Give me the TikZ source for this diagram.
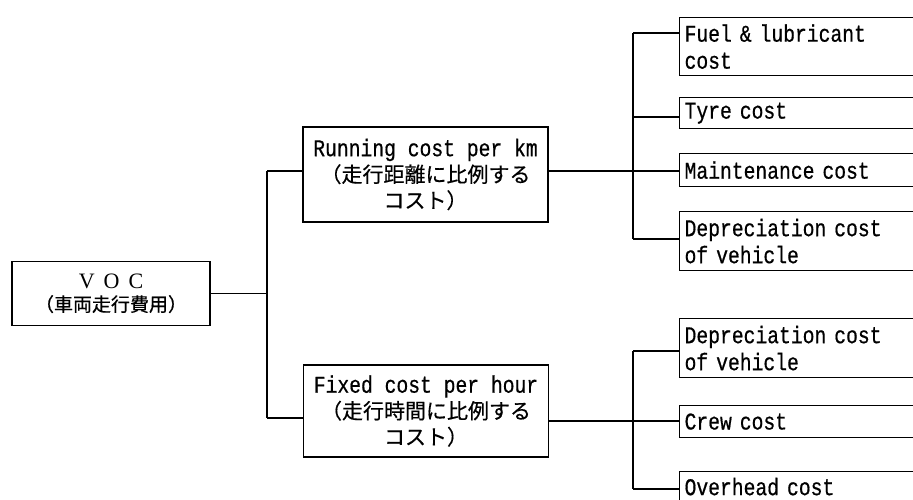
\documentclass[tikz,border=0pt]{standalone}
\usepackage{fontspec}
\newfontfamily\monof[FakeStretch=0.82,FakeBold=0.6]{Liberation Mono}
\newfontfamily\jp[FakeBold=0.5]{Noto Sans CJK JP}
\newfontfamily\serf{Liberation Serif}
\begin{document}
\begin{tikzpicture}[x=1pt,y=-1pt,
  box/.style={draw, line width=1.2pt, inner sep=0pt},
  link/.style={line width=1.2pt},
  leaf/.style={box, anchor=north west, minimum width=280pt, text width=270pt,
     inner xsep=5pt, align=left, font=\monof\fontsize{24}{27}\selectfont},
  mid/.style={box, minimum width=245pt, align=center,
     font=\fontsize{24}{26}\selectfont}
]
\useasboundingbox (0,0) rectangle (913,500);
\clip (0,0) rectangle (913,500);
% root
\node[box, minimum width=198pt, minimum height=64pt, align=center,
      font=\fontsize{22}{22}\selectfont] (voc) at (111,293.5)
  {{\serf V\hspace{9pt}O\hspace{9pt}C}\\[1pt]{\jp\fontsize{19}{20}\selectfont （車両走行費用）}};
% middle boxes
\node[mid, minimum height=95pt] (run) at (425.5,174.5)
  {{\monof Running cost per km}\\{\jp\fontsize{21}{26}\selectfont （走行距離に比例する}\\{\jp\fontsize{21}{26}\selectfont コスト）}};
\node[mid, minimum height=92pt] (fix) at (426,411)
  {{\monof Fixed cost per hour}\\{\jp\fontsize{21}{26}\selectfont （走行時間に比例する}\\{\jp\fontsize{21}{26}\selectfont コスト）}};
% leaves
\node[leaf, minimum height=58pt] (fuel) at (679,17) {Fuel \& lubricant\\cost};
\node[leaf, minimum height=31pt] (tyre) at (679,97) {Tyre cost};
\node[leaf, minimum height=33pt] (mnt) at (679,153) {Maintenance cost};
\node[leaf, minimum height=59pt] (dep) at (679,211) {Depreciation cost\\of vehicle};
\node[leaf, minimum height=59pt] (depb) at (679,318) {Depreciation cost\\of vehicle};
\node[leaf, minimum height=32pt] (crew) at (679,405) {Crew cost};
\node[leaf, minimum height=30pt] (ovh) at (679,471) {Overhead cost};
% trunk coordinates
\coordinate (ta) at (267,171);
\coordinate (tb) at (267,418);
\coordinate (ra) at (633,33);
\coordinate (rb) at (633,117);
\coordinate (rc) at (633,171);
\coordinate (rd) at (633,239);
\coordinate (fa) at (633,351);
\coordinate (fb) at (633,421);
\coordinate (fc) at (633,489);
% connectors
\draw[link] (voc.east) -- (voc.east -| ta);
\draw[link] (ta) -- (tb);
\draw[link] (ta) -- (ta -| run.west);
\draw[link] (tb) -- (tb -| fix.west);
\draw[link] (rc -| run.east) -- (rc);
\draw[link] (ra) -- (rd);
\draw[link] (ra) -- (ra -| fuel.west);
\draw[link] (rb) -- (rb -| tyre.west);
\draw[link] (rc) -- (rc -| mnt.west);
\draw[link] (rd) -- (rd -| dep.west);
\draw[link] (fb -| fix.east) -- (fb);
\draw[link] (fa) -- (fc);
\draw[link] (fa) -- (fa -| depb.west);
\draw[link] (fb) -- (fb -| crew.west);
\draw[link] (fc) -- (fc -| ovh.west);
\end{tikzpicture}
\end{document}
